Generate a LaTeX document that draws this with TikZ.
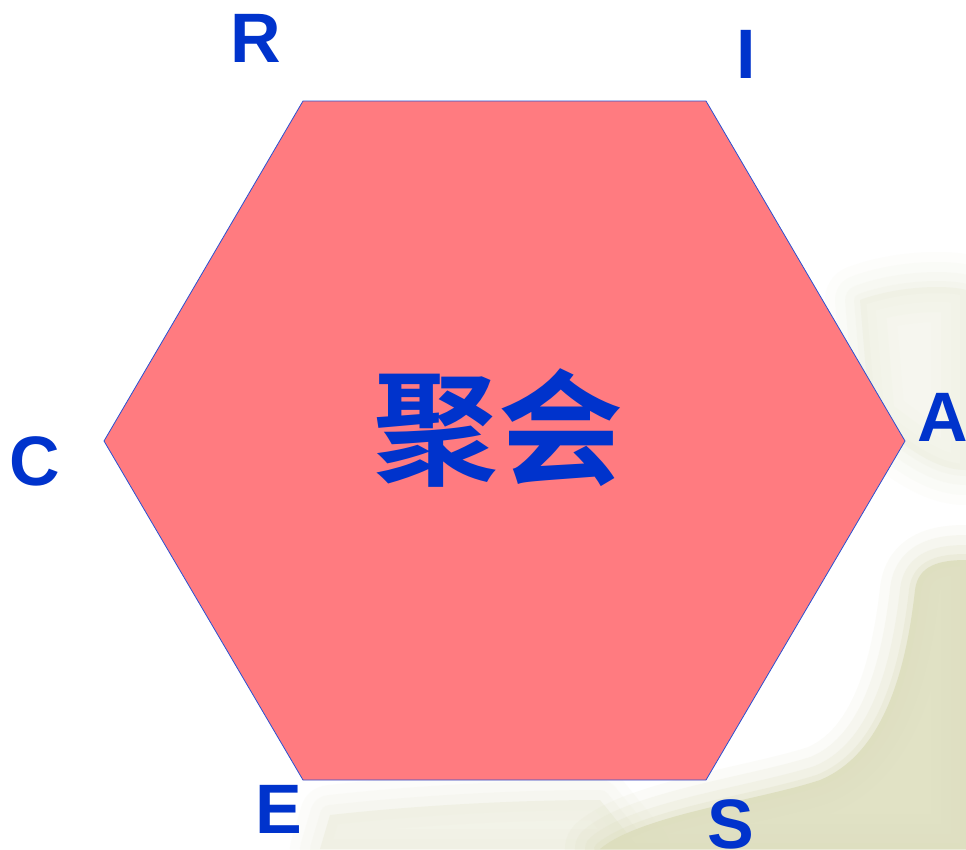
\documentclass[tikz,border=0pt]{standalone}
\usepackage{fontspec}
\setsansfont{Liberation Sans}
\newfontfamily\cjkfont{Noto Sans CJK SC}[BoldFont={* Bold}]
\definecolor{lblue}{RGB}{0,51,204}
\definecolor{hexfill}{RGB}{255,123,128}
\definecolor{hexline}{RGB}{40,80,210}
\definecolor{olive}{RGB}{220,221,188}
\definecolor{paleolive}{RGB}{236,237,220}
\tikzset{
  letter/.style={text=lblue, font=\sffamily\bfseries\fontsize{70}{70}\selectfont, inner sep=0pt, anchor=base},
  center/.style={text=lblue, font=\cjkfont\bfseries\fontsize{125}{125}\selectfont, inner sep=0pt, anchor=base},
  hex/.style={fill=hexfill, draw=hexline, line width=0.8pt, line join=miter},
  soft/.style={line join=round, line cap=round}
}
\def\blobTop{(860,300) .. controls (900,285) and (950,285) .. (966,290) -- (966,470) .. controls (930,470) and (900,440) .. (870,420) -- cycle}
\def\blobBottom{(330,815) .. controls (420,805) and (520,800) .. (600,800) -- (640,849) -- (320,849) -- cycle}
\def\blobRight{(915,590) .. controls (918,565) and (940,560) .. (966,560) -- (966,849) -- (600,849) .. controls (640,815) and (760,800) .. (820,780) .. controls (880,755) and (905,680) .. (915,590) -- cycle}
\begin{document}
\begin{tikzpicture}[x=1pt,y=-1pt]
\useasboundingbox (0,0) rectangle (966,849);
\fill[white] (0,0) rectangle (966,849);
% soft background wash
\foreach \w/\o in {70/0.10,50/0.12,30/0.15,12/0.2} {
  \draw[soft, draw=paleolive, line width=\w pt, opacity=\o] \blobTop;
}
\fill[paleolive, opacity=0.45] \blobTop;
\foreach \w/\o in {60/0.12,40/0.15,20/0.2} {
  \draw[soft, draw=paleolive, line width=\w pt, opacity=\o] \blobBottom;
}
\fill[paleolive, opacity=0.6] \blobBottom;
\foreach \w/\o in {70/0.10,50/0.14,30/0.18,12/0.25} {
  \draw[soft, draw=olive, line width=\w pt, opacity=\o] \blobRight;
}
\fill[olive, opacity=0.85] \blobRight;
% hexagon
\coordinate (tl) at (303,101);
\coordinate (tr) at (706,101);
\coordinate (rv) at (905,441);
\coordinate (br) at (706,780);
\coordinate (bl) at (303,780);
\coordinate (lv) at (104,441);
\draw[hex] (tl) -- (tr) -- (rv) -- (br) -- (bl) -- (lv) -- cycle;
% labels
\node[letter] (R) at (256,62) {R};
\node[letter] (I) at (746.5,78) {I};
\node[letter] (A) at (943,441) {A};
\node[letter] (C) at (35,485) {C};
\node[letter] (E) at (279,833) {E};
\node[letter] (S) at (731,848) {S};
\node[center] (title) at (498,475) {聚会};
\end{tikzpicture}
\end{document}
